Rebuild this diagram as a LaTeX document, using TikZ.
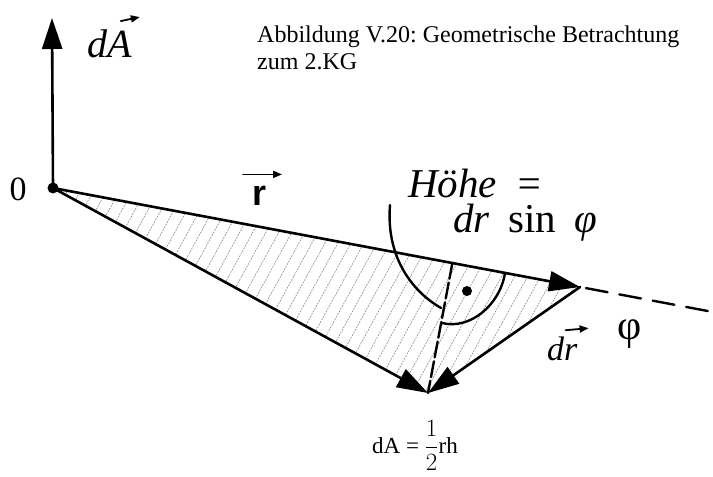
\documentclass[tikz,border=0pt]{standalone}
\usepackage{fontspec}
\setmainfont{Liberation Serif}
\newfontfamily\arialfont{Liberation Sans}
\usetikzlibrary{arrows.meta,calc}
\begin{document}
\begin{tikzpicture}[x=1pt, y=-1pt, line join=round, line cap=round,
    >={Triangle[length=31pt,width=20pt]},
    vek/.style={->, line width=2.6pt},
    pfeilchen/.style={-{Triangle[length=9pt,width=7pt]}, line width=1.8pt},
    lab/.style={inner sep=0pt}]
  \useasboundingbox (0,0) rectangle (713,477);
  \coordinate (O) at (53,188);
  \coordinate (A) at (52,18);
  \coordinate (R) at (580,287);
  \coordinate (B) at (428,393);
  \coordinate (E) at (713,312);
  \coordinate (F) at ($(O)!(B)!(R)$);
  % Schraffur
  \begin{scope}
    \clip (O) -- (R) -- (B) -- cycle;
    \foreach \x in {-240,-227,...,600}
      \draw[black!45, line width=0.6pt, dash pattern=on 1.6pt off 1.4pt] (\x,420) -- (\x+230,0);
  \end{scope}
  \draw[line width=2.4pt, dash pattern=on 22pt off 12pt, dash phase=28pt] (R) -- (E);
  \draw[line width=2.4pt, dash pattern=on 16pt off 4pt] (F) -- (B);
  \draw[vek] (O) -- (A);
  \draw[vek] (O) -- (R);
  \draw[vek] (O) -- (B);
  \draw[vek] (R) -- (B);
  % Bogen
  \draw[line width=2.4pt] (390,205) .. controls (386,255) and (410,290) .. (441,308);
  \draw[line width=2.4pt] (442,323) .. controls (470,330) and (500,305) .. (505,273);
  \fill (467,291) circle (5pt);
  \fill (O) circle (5.5pt);
  % Beschriftung
  \node[lab, anchor=north west, align=left, font=\fontsize{24}{27}\selectfont\frenchspacing] (caption) at (257,25.5)
    {Abbildung V.20: Geometrische Betrachtung\\zum 2.KG};
  \node[lab, anchor=base west, font=\fontsize{40}{44}\selectfont\itshape] (dAlab) at (87,57) {dA};
  \draw[pfeilchen] ([xshift=-11pt,yshift=8pt]dAlab.north east) -- ([xshift=8pt,yshift=12pt]dAlab.north east);
  \node[lab, anchor=base, font=\fontsize{34}{38}\selectfont] (null) at (18,200) {0};
  \node[lab, anchor=base, font=\fontsize{36}{40}\selectfont\arialfont\bfseries] (rlab) at (260,205) {r};
  \draw[pfeilchen] ([xshift=-17pt,yshift=11pt]rlab.north) -- ([xshift=22pt,yshift=11pt]rlab.north);
  \node[lab, anchor=base west, font=\fontsize{41}{45}\selectfont\itshape] (hoehe) at (408,197) {Höhe\hspace{0.45em}=};
  \node[lab, anchor=base west, font=\fontsize{41}{45}\selectfont] (drsin) at (453,232)
    {\textit{dr}\hspace{0.45em}sin\hspace{0.45em}\textit{φ}};
  \node[lab, anchor=base west, font=\fontsize{34}{38}\selectfont\itshape] (drlab) at (547,360) {dr};
  \draw[pfeilchen] ([xshift=-12pt,yshift=6pt]drlab.north east) -- ([xshift=11pt,yshift=8pt]drlab.north east);
  \node[lab, font=\fontsize{42}{46}\selectfont] (phi) at (630,334) {φ};
  \node[lab, anchor=base west, font=\fontsize{23}{27}\selectfont] (formel) at (372,453)
    {dA = $\displaystyle\frac{1}{2}$rh};
\end{tikzpicture}
\end{document}
